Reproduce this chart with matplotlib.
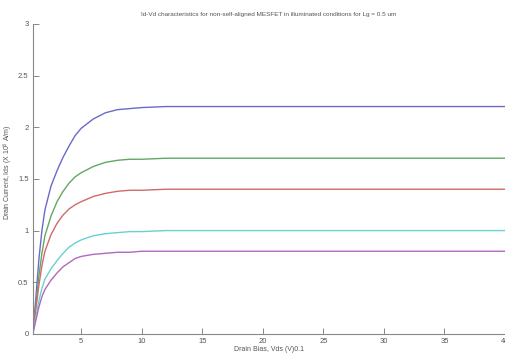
#Id-Vd curves of a non-self-aligned MESFET under illumination

import matplotlib.pyplot as plt

plt.rcParams['font.family'] = ['Liberation Sans', 'DejaVu Sans']

#drain bias sample points (V x 0.1)
vds = [1, 1.25, 1.5, 1.75, 2, 2.5, 3, 3.5, 4, 4.5, 5, 6, 7, 8, 9, 10, 12, 15, 20, 25, 30, 35, 40]

#drain current for each gate condition (X 10^6 A/m)
ids_1 = [0, 0.35, 0.72, 1.00, 1.20, 1.43, 1.58, 1.71, 1.82, 1.92, 1.99, 2.08, 2.14, 2.17, 2.18, 2.19, 2.20, 2.20, 2.20, 2.20, 2.20, 2.20, 2.20]
ids_2 = [0, 0.28, 0.56, 0.78, 0.95, 1.14, 1.28, 1.38, 1.46, 1.52, 1.56, 1.62, 1.66, 1.68, 1.69, 1.69, 1.70, 1.70, 1.70, 1.70, 1.70, 1.70, 1.70]
ids_3 = [0, 0.24, 0.47, 0.66, 0.80, 0.96, 1.07, 1.15, 1.21, 1.25, 1.28, 1.33, 1.36, 1.38, 1.39, 1.39, 1.40, 1.40, 1.40, 1.40, 1.40, 1.40, 1.40]
ids_4 = [0, 0.16, 0.32, 0.44, 0.53, 0.63, 0.71, 0.78, 0.84, 0.88, 0.91, 0.95, 0.97, 0.98, 0.99, 0.99, 1.00, 1.00, 1.00, 1.00, 1.00, 1.00, 1.00]
ids_5 = [0, 0.13, 0.26, 0.36, 0.43, 0.52, 0.59, 0.65, 0.69, 0.73, 0.75, 0.77, 0.78, 0.79, 0.79, 0.80, 0.80, 0.80, 0.80, 0.80, 0.80, 0.80, 0.80]

curves = [ids_1, ids_2, ids_3, ids_4, ids_5]
colors = ['#6a6ac8', '#62a862', '#d06a6a', '#6ad0d0', '#b068c0']

xticks = [5, 10, 15, 20, 25, 30, 35, 40]
yticks = [0, 0.5, 1, 1.5, 2, 2.5, 3]

fig = plt.figure(figsize=(5.05, 3.56), dpi=100)
ax = fig.add_axes([0.065, 0.062, 0.935, 0.871])

for ids, c in zip(curves, colors):
	ax.plot(vds, ids, color=c, linewidth=1.0)

ax.set_xlim(1, 40)
ax.set_ylim(0, 3)
ax.set_xticks(xticks)
ax.set_xticklabels([str(t) for t in xticks])
ax.set_yticks(yticks)
ax.set_yticklabels(['0', '0.5', '1', '1.5', '2', '2.5', '3'])

ax.spines['top'].set_visible(False)
ax.spines['right'].set_visible(False)
ax.spines['left'].set_color('#888888')
ax.spines['bottom'].set_color('#888888')
ax.tick_params(direction='in', length=4, width=0.7, colors='#888888',
	labelsize=5.5, labelcolor='#555555', pad=3)

ax.set_title('Id-Vd characteristics for non-self-aligned MESFET in illuminated conditions for Lg = 0.5 um',
	fontsize=4.6, color='#555555', pad=6)
ax.set_xlabel('Drain Bias, Vds (V)0.1', fontsize=5, color='#555555', labelpad=1)
ax.set_ylabel('Drain Current, Ids (X 10$^6$ A/m)', fontsize=5, color='#555555')
ax.yaxis.set_label_coords(-0.038, 0.52)

fig.savefig('out.png', dpi=100)
